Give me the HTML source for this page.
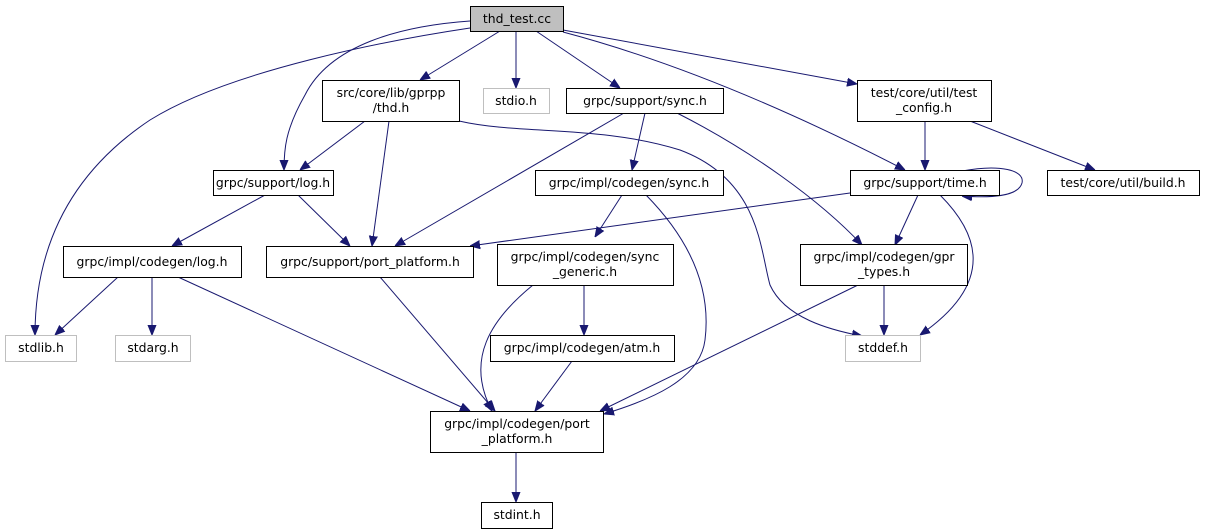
<!DOCTYPE html>
<html><head><style>
html,body{margin:0;padding:0;background:#fff;}
svg{display:block;}
text{font-family:"DejaVu Sans","Liberation Sans",sans-serif;font-size:12.4px;fill:#000;text-anchor:middle;}
.n{fill:#fff;stroke:#000;stroke-width:1;}
.g{fill:#fff;stroke:#bfbfbf;stroke-width:1;}
.e{fill:none;stroke:#191970;stroke-width:1;}
</style></head><body>
<svg width="1205" height="529" viewBox="0 0 1205 529" xmlns="http://www.w3.org/2000/svg">
<defs><marker id="a" viewBox="0 0 10 10" refX="10" refY="5" markerWidth="10" markerHeight="10" markerUnits="userSpaceOnUse" orient="auto"><path d="M0,1 L10,5 L0,9 z" fill="#191970" stroke="#191970"/></marker></defs>
<g marker-end="url(#a)">
<path class="e" d="M470,28 C390,40 230,70 150,120 C60,180 35,260 35,335"/>
<path class="e" d="M470,21 C400,26 330,45 305,95 C285,130 284,150 284,170"/>
<path class="e" d="M500,31 L420,80"/>
<path class="e" d="M516,31 L516,88"/>
<path class="e" d="M536,31 L620,88"/>
<path class="e" d="M563,32 C650,55 760,95 905,170"/>
<path class="e" d="M563,30 L857,84"/>
<path class="e" d="M365,121 L300,170"/>
<path class="e" d="M389,121 L372,246"/>
<path class="e" d="M459,121 C520,135 600,125 680,150 C760,180 760,250 770,285 C785,318 830,330 862,336"/>
<path class="e" d="M624,113 L395,246"/>
<path class="e" d="M645,113 L632,170"/>
<path class="e" d="M677,113 C750,150 820,200 862,245"/>
<path class="e" d="M925,121 L925,170"/>
<path class="e" d="M970,121 L1095,170"/>
<path class="e" d="M265,195 L172,246"/>
<path class="e" d="M298,195 L350,246"/>
<path class="e" d="M622,195 L595,237"/>
<path class="e" d="M646,195 C700,250 710,300 705,340 C700,380 650,400 604,414"/>
<path class="e" d="M850,193 L470,246"/>
<path class="e" d="M918,195 L895,245"/>
<path class="e" d="M940,195 C975,230 1000,280 920,335"/>
<path class="e" d="M962,171 C1000,164 1025,170 1022,183 C1018,197 990,198 962,196"/>
<path class="e" d="M118,277 L55,335"/>
<path class="e" d="M152,277 L152,335"/>
<path class="e" d="M178,277 L470,411"/>
<path class="e" d="M380,277 L495,411"/>
<path class="e" d="M533,285 C490,320 465,360 492,411"/>
<path class="e" d="M584,285 L584,335"/>
<path class="e" d="M572,361 L535,411"/>
<path class="e" d="M858,285 L600,411"/>
<path class="e" d="M884,285 L884,335"/>
<path class="e" d="M516,452 L516,502"/>
</g>
<rect x="470.5" y="6.5" width="93" height="25" fill="#bfbfbf" stroke="#000"/><text x="517" y="23">thd_test.cc</text>
<rect class="n" x="322.5" y="80.5" width="137" height="41"/><text x="391" y="97">src/core/lib/gprpp</text><text x="391" y="112">/thd.h</text>
<rect class="g" x="483.5" y="88.5" width="66" height="25"/><text x="516" y="105">stdio.h</text>
<rect class="n" x="566.5" y="88.5" width="157" height="25"/><text x="645" y="105">grpc/support/sync.h</text>
<rect class="n" x="857.5" y="80.5" width="134" height="41"/><text x="924" y="97">test/core/util/test</text><text x="924" y="112">_config.h</text>
<rect class="n" x="213.5" y="170.5" width="120" height="25"/><text x="273" y="187">grpc/support/log.h</text>
<rect class="n" x="535.5" y="170.5" width="188" height="25"/><text x="629" y="187">grpc/impl/codegen/sync.h</text>
<rect class="n" x="850.5" y="170.5" width="149" height="25"/><text x="925" y="187">grpc/support/time.h</text>
<rect class="n" x="1047.5" y="170.5" width="152" height="25"/><text x="1123" y="187">test/core/util/build.h</text>
<rect class="n" x="63.5" y="246.5" width="178" height="31"/><text x="152" y="266">grpc/impl/codegen/log.h</text>
<rect class="n" x="266.5" y="246.5" width="207" height="31"/><text x="370" y="266">grpc/support/port_platform.h</text>
<rect class="n" x="497.5" y="244.5" width="176" height="41"/><text x="585" y="261">grpc/impl/codegen/sync</text><text x="585" y="276">_generic.h</text>
<rect class="n" x="800.5" y="244.5" width="167" height="41"/><text x="884" y="261">grpc/impl/codegen/gpr</text><text x="884" y="276">_types.h</text>
<rect class="g" x="5.5" y="335.5" width="71" height="26"/><text x="41" y="352">stdlib.h</text>
<rect class="g" x="115.5" y="335.5" width="75" height="26"/><text x="153" y="352">stdarg.h</text>
<rect class="n" x="490.5" y="335.5" width="184" height="26"/><text x="582" y="352">grpc/impl/codegen/atm.h</text>
<rect class="g" x="845.5" y="335.5" width="75" height="26"/><text x="883" y="352">stddef.h</text>
<rect class="n" x="430.5" y="411.5" width="173" height="41"/><text x="517" y="428">grpc/impl/codegen/port</text><text x="517" y="443">_platform.h</text>
<rect class="n" x="481.5" y="502.5" width="71" height="26"/><text x="517" y="519">stdint.h</text>
</svg>
</body></html>
